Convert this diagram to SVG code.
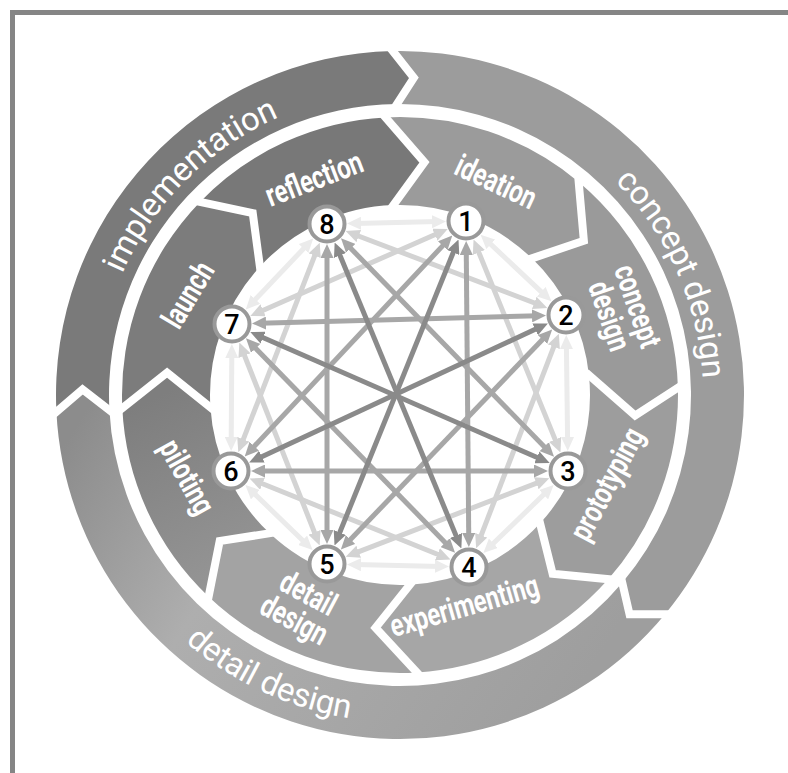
<svg xmlns="http://www.w3.org/2000/svg" width="788" height="773" viewBox="0 0 788 773">
<style>
.sep{fill:none;stroke:#fff;stroke-width:8;stroke-linejoin:miter;stroke-linecap:square}
.ring{font-family:Roboto,"Liberation Sans",sans-serif;font-size:33px;letter-spacing:-0.3px;fill:#fff}
.lab{font-family:Roboto,"Liberation Sans",sans-serif;font-weight:700;font-size:32px;fill:#fff}
.num{font-family:Roboto,"Liberation Sans",sans-serif;font-weight:500;font-size:27px;fill:#000;text-anchor:middle}
.nd{fill:#fff;stroke:#999;stroke-width:4}
.a{fill:none;stroke-width:5}
.k1{stroke:#ebebeb;marker-start:url(#m1);marker-end:url(#m1)}
.k2{stroke:#d3d3d3;marker-start:url(#m2);marker-end:url(#m2)}
.k3{stroke:#a7a7a7;marker-start:url(#m3);marker-end:url(#m3)}
.k4{stroke:#8a8a8a;marker-start:url(#m4);marker-end:url(#m4)}
</style>
<defs>
<linearGradient id="gDet" gradientUnits="userSpaceOnUse" x1="80" y1="420" x2="560" y2="720">
<stop offset="0" stop-color="#8c8c8c"/><stop offset="0.35" stop-color="#aeaeae"/><stop offset="1" stop-color="#9e9e9e"/>
</linearGradient>
<linearGradient id="gPil" gradientUnits="userSpaceOnUse" x1="150" y1="400" x2="250" y2="600">
<stop offset="0" stop-color="#7e7e7e"/><stop offset="1" stop-color="#989898"/>
</linearGradient>
<marker id="m1" viewBox="0 0 14 13" markerWidth="14" markerHeight="13" markerUnits="userSpaceOnUse" refX="6" refY="6.5" orient="auto-start-reverse"><path d="M0,0 L14,6.5 L0,13 Z" fill="#ebebeb"/></marker>
<marker id="m2" viewBox="0 0 14 13" markerWidth="14" markerHeight="13" markerUnits="userSpaceOnUse" refX="6" refY="6.5" orient="auto-start-reverse"><path d="M0,0 L14,6.5 L0,13 Z" fill="#d3d3d3"/></marker>
<marker id="m3" viewBox="0 0 14 13" markerWidth="14" markerHeight="13" markerUnits="userSpaceOnUse" refX="6" refY="6.5" orient="auto-start-reverse"><path d="M0,0 L14,6.5 L0,13 Z" fill="#a7a7a7"/></marker>
<marker id="m4" viewBox="0 0 14 13" markerWidth="14" markerHeight="13" markerUnits="userSpaceOnUse" refX="6" refY="6.5" orient="auto-start-reverse"><path d="M0,0 L14,6.5 L0,13 Z" fill="#8a8a8a"/></marker>
<path id="pImpl" d="M97,395 A303,303 0 0 1 400,92"/>
<path id="pCon" d="M508.59,112.13 A303,303 0 0 1 682.87,503.59"/>
<path id="pDet" d="M92.72,506.84 A327,327 0 0 0 511.84,702.28"/>
</defs>

<rect x="12.5" y="12.5" width="820" height="820" fill="none" stroke="#858585" stroke-width="5"/>

<g id="phase-implementation">
<path d="M56.41,411.80 A344,344 0 0 1 392.80,51.08 L413.85,77.80 L396.95,104.01 A291,291 0 0 0 109.40,410.23 L82.55,389.46 Z" fill="#7a7a7a"/>
<text class="ring"><textPath href="#pImpl" startOffset="50%" text-anchor="middle">implementation</textPath></text>
</g>
<g id="phase-concept-design">
<path d="M392.80,51.08 A344,344 0 0 1 665.06,614.27 L629.54,614.35 L622.27,582.83 A291,291 0 0 0 396.95,104.01 L413.85,77.80 Z" fill="#9c9c9c"/>
<text class="ring"><textPath href="#pCon" startOffset="50%" text-anchor="middle">concept design</textPath></text>
</g>
<g id="phase-detail-design">
<path d="M665.06,614.27 A344,344 0 0 1 56.41,411.80 L82.55,389.46 L109.40,410.23 A291,291 0 0 0 622.27,582.83 L629.54,614.35 Z" fill="url(#gDet)"/>
<text class="ring"><textPath href="#pDet" startOffset="50%" text-anchor="middle">detail design</textPath></text>
</g>

<g id="step-ideation">
<path d="M385.45,117.38 A278,278 0 0 1 578.70,182.04 L583.85,240.73 L531.99,258.33 A190,190 0 0 0 393.37,205.12 L424.46,162.28 Z" fill="#9b9b9b"/>
<text class="lab" transform="translate(495,184) rotate(25) scale(0.74,1)" text-anchor="middle" dominant-baseline="middle">ideation</text>
</g>
<g id="step-concept-design">
<path d="M578.70,182.04 A278,278 0 0 1 677.90,387.72 L635.10,415.57 L588.96,375.14 A190,190 0 0 0 531.99,258.33 L583.85,240.73 Z" fill="#9a9a9a"/>
<text class="lab" transform="translate(621,312) rotate(71) scale(0.74,1)" text-anchor="middle" dominant-baseline="middle"><tspan x="0" y="-15">concept</tspan><tspan x="0" y="15">design</tspan></text>
</g>
<g id="step-prototyping">
<path d="M677.90,387.72 A278,278 0 0 1 608.21,579.21 L552.62,573.70 L540.08,523.36 A190,190 0 0 0 588.96,375.14 L635.10,415.57 Z" fill="#9d9d9d"/>
<text class="lab" transform="translate(609,485) rotate(-62) scale(0.74,1)" text-anchor="middle" dominant-baseline="middle">prototyping</text>
</g>
<g id="step-experimenting">
<path d="M608.21,579.21 A278,278 0 0 1 416.97,672.48 L375.54,627.72 L409.94,584.74 A190,190 0 0 0 540.08,523.36 L552.62,573.70 Z" fill="#a6a6a6"/>
<text class="lab" transform="translate(465,608) rotate(-16) scale(0.74,1)" text-anchor="middle" dominant-baseline="middle">experimenting</text>
</g>
<g id="step-detail-design">
<path d="M416.97,672.48 A278,278 0 0 1 208.64,596.65 L219.70,541.00 L269.69,533.28 A190,190 0 0 0 409.94,584.74 L375.54,627.72 Z" fill="#a3a3a3"/>
<text class="lab" transform="translate(300,609) rotate(28) scale(0.74,1)" text-anchor="middle" dominant-baseline="middle"><tspan x="0" y="-15">detail</tspan><tspan x="0" y="15">design</tspan></text>
</g>
<g id="step-piloting">
<path d="M208.64,596.65 A278,278 0 0 1 122.31,408.10 L167.08,372.57 L210.40,407.26 A190,190 0 0 0 269.69,533.28 L219.70,541.00 Z" fill="url(#gPil)"/>
<text class="lab" transform="translate(185,478) rotate(61) scale(0.74,1)" text-anchor="middle" dominant-baseline="middle">piloting</text>
</g>
<g id="step-launch">
<path d="M122.31,408.10 A278,278 0 0 1 200.02,201.88 L252.74,213.15 L259.92,266.64 A190,190 0 0 0 210.40,407.26 L167.08,372.57 Z" fill="#7c7c7c"/>
<text class="lab" transform="translate(190,296) rotate(-59) scale(0.74,1)" text-anchor="middle" dominant-baseline="middle">launch</text>
</g>
<g id="step-reflection">
<path d="M200.02,201.88 A278,278 0 0 1 385.45,117.38 L424.46,162.28 L393.37,205.12 A190,190 0 0 0 259.92,266.64 L252.74,213.15 Z" fill="#787878"/>
<text class="lab" transform="translate(315,181) rotate(-21) scale(0.74,1)" text-anchor="middle" dominant-baseline="middle">reflection</text>
</g>

<g id="separators">
<path class="sep" d="M392.80,51.08 L413.85,77.80 L396.95,104.01"/>
<path class="sep" d="M665.06,614.27 L629.54,614.35 L622.27,582.83"/>
<path class="sep" d="M56.41,411.80 L82.55,389.46 L109.40,410.23"/>
<path class="sep" d="M385.45,117.38 L424.46,162.28 L393.37,205.12"/>
<path class="sep" d="M578.70,182.04 L583.85,240.73 L531.99,258.33"/>
<path class="sep" d="M677.90,387.72 L635.10,415.57 L588.96,375.14"/>
<path class="sep" d="M608.21,579.21 L552.62,573.70 L540.08,523.36"/>
<path class="sep" d="M416.97,672.48 L375.54,627.72 L409.94,584.74"/>
<path class="sep" d="M208.64,596.65 L219.70,541.00 L269.69,533.28"/>
<path class="sep" d="M122.31,408.10 L167.08,372.57 L210.40,407.26"/>
<path class="sep" d="M200.02,201.88 L252.74,213.15 L259.92,266.64"/>
</g>

<g id="connectors">
<path class="a k1" d="M486.40,240.18 L545.60,295.82"/>
<path class="a k1" d="M566.36,343.00 L567.64,443.00"/>
<path class="a k1" d="M547.90,490.49 L489.10,547.51"/>
<path class="a k1" d="M441.00,566.41 L355.00,564.59"/>
<path class="a k1" d="M306.89,544.51 L251.11,490.49"/>
<path class="a k1" d="M231.19,443.00 L231.81,352.00"/>
<path class="a k1" d="M251.29,303.70 L307.71,244.30"/>
<path class="a k1" d="M355.00,223.40 L438.00,221.60"/>
<path class="a k2" d="M476.58,246.93 L557.42,445.07"/>
<path class="a k2" d="M555.95,341.14 L479.05,540.86"/>
<path class="a k2" d="M541.88,481.08 L353.12,553.92"/>
<path class="a k2" d="M443.03,556.53 L256.97,481.47"/>
<path class="a k2" d="M316.70,537.96 L242.30,350.04"/>
<path class="a k2" d="M241.15,444.90 L316.85,250.10"/>
<path class="a k2" d="M257.62,312.72 L440.38,232.28"/>
<path class="a k2" d="M353.17,233.97 L539.83,305.03"/>
<path class="a k3" d="M466.24,249.00 L468.76,539.00"/>
<path class="a k3" d="M546.61,335.20 L346.39,543.80"/>
<path class="a k3" d="M540,471 L259,471"/>
<path class="a k3" d="M449.45,546.95 L251.55,344.05"/>
<path class="a k3" d="M327,536 L327,252"/>
<path class="a k3" d="M250.18,450.60 L446.82,241.40"/>
<path class="a k3" d="M259.99,323.24 L538.01,315.76"/>
<path class="a k3" d="M346.56,244.04 L548.44,450.96"/>
<path class="a k4" d="M455.49,246.95 L337.51,538.05"/>
<path class="a k4" d="M540.62,326.82 L256.38,459.18"/>
<path class="a k4" d="M542.35,459.77 L257.65,335.23"/>
<path class="a k4" d="M458.29,541.13 L337.71,249.87"/>
</g>

<g id="node-1"><circle class="nd" cx="466" cy="221" r="17.5"/><text class="num" x="466" y="230.5">1</text></g>
<g id="node-2"><circle class="nd" cx="566" cy="315" r="17.5"/><text class="num" x="566" y="324.5">2</text></g>
<g id="node-3"><circle class="nd" cx="568" cy="471" r="17.5"/><text class="num" x="568" y="480.5">3</text></g>
<g id="node-4"><circle class="nd" cx="469" cy="567" r="17.5"/><text class="num" x="469" y="576.5">4</text></g>
<g id="node-5"><circle class="nd" cx="327" cy="564" r="17.5"/><text class="num" x="327" y="573.5">5</text></g>
<g id="node-6"><circle class="nd" cx="231" cy="471" r="17.5"/><text class="num" x="231" y="480.5">6</text></g>
<g id="node-7"><circle class="nd" cx="232" cy="324" r="17.5"/><text class="num" x="232" y="333.5">7</text></g>
<g id="node-8"><circle class="nd" cx="327" cy="224" r="17.5"/><text class="num" x="327" y="233.5">8</text></g>
</svg>
